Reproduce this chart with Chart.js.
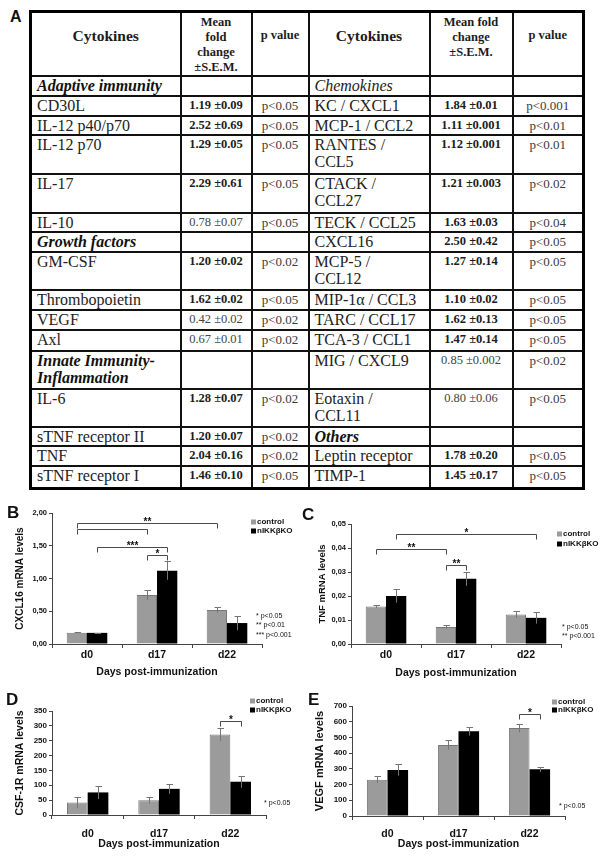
<!DOCTYPE html>
<html><head><meta charset="utf-8">
<script src="https://cdn.jsdelivr.net/npm/chart.js@4.4.0/dist/chart.umd.min.js"></script>
<style>
html,body{margin:0;padding:0;background:#fff;}
body{width:601px;height:857px;position:relative;overflow:hidden;}
#lblA{position:absolute;left:10px;top:9px;font:bold 16px/16px 'Liberation Sans',Arial,sans-serif;color:#111;}
#tbl{position:absolute;left:29px;top:10px;border-collapse:collapse;table-layout:fixed;width:553px;border:3px solid #000;
 font-family:'Liberation Serif','Times New Roman',serif;color:#1c1c1c;}
#tbl td{border:2px solid #111;padding:0 5px;vertical-align:top;white-space:pre;overflow:hidden;}
#tbl td.hd{font-weight:bold;text-align:center;font-size:12.5px;line-height:15px;padding-top:2px;}
#tbl td.hc{font-weight:bold;text-align:center;font-size:15.5px;vertical-align:middle;padding-bottom:16px;}
#tbl td.hp{font-weight:bold;text-align:center;font-size:12.5px;vertical-align:middle;padding-bottom:17px;}
#tbl td.nm{font-size:16px;line-height:17px;text-align:left;padding-left:5px;color:#222;}
#tbl td.sec{font-style:italic;font-weight:bold;color:#111;}
#tbl td.seci{font-style:italic;}
#tbl td.fv{font-size:12.5px;line-height:17px;text-align:center;font-weight:bold;}
#tbl td.fv.dn{font-weight:normal;color:#444;}
#tbl td.pv{font-size:13px;line-height:17px;text-align:center;color:#3a3a3a;}
canvas{position:absolute;}
</style></head><body>
<div id="lblA">A</div>
<table id="tbl"></table>
<canvas id="cB" width="300" height="180" style="left:0;top:500px"></canvas>
<canvas id="cC" width="301" height="180" style="left:300px;top:500px"></canvas>
<canvas id="cD" width="300" height="177" style="left:0;top:680px"></canvas>
<canvas id="cE" width="301" height="177" style="left:300px;top:680px"></canvas>
<script>
// ---------------- Table data ----------------
const tableHeaders = ['Cytokines', 'Mean\nfold\nchange\n±S.E.M.', 'p value', 'Cytokines', 'Mean fold\nchange\n±S.E.M.', 'p value'];
const leftNames = ['Adaptive immunity','CD30L','IL-12 p40/p70','IL-12 p70','IL-17','IL-10','Growth factors','GM-CSF','Thrombopoietin','VEGF','Axl','Innate Immunity-\nInflammation','IL-6','sTNF receptor II','TNF','sTNF receptor I'];
const leftFold = ['','1.19 ±0.09','2.52 ±0.69','1.29 ±0.05','2.29 ±0.61','0.78 ±0.07','','1.20 ±0.02','1.62 ±0.02','0.42 ±0.02','0.67 ±0.01','','1.28 ±0.07','1.20 ±0.07','2.04 ±0.16','1.46 ±0.10'];
const leftP = ['','p<0.05','p<0.05','p<0.05','p<0.05','p<0.05','','p<0.02','p<0.05','p<0.02','p<0.02','','p<0.02','p<0.02','p<0.02','p<0.05'];
const rightNames = ['Chemokines','KC / CXCL1','MCP-1 / CCL2','RANTES /\nCCL5','CTACK /\nCCL27','TECK / CCL25','CXCL16','MCP-5 /\nCCL12','MIP-1α / CCL3','TARC / CCL17','TCA-3 / CCL1','MIG / CXCL9','Eotaxin /\nCCL11','Others','Leptin receptor','TIMP-1'];
const rightFold = ['','1.84 ±0.01','1.11 ±0.001','1.12 ±0.001','1.21 ±0.003','1.63 ±0.03','2.50 ±0.42','1.27 ±0.14','1.10 ±0.02','1.62 ±0.13','1.47 ±0.14','0.85 ±0.002','0.80 ±0.06','','1.78 ±0.20','1.45 ±0.17'];
const rightP = ['','p<0.001','p<0.01','p<0.01','p<0.02','p<0.04','p<0.05','p<0.05','p<0.05','p<0.05','p<0.05','p<0.02','p<0.05','','p<0.05','p<0.05'];
const plainSections = ['Chemokines'];

// ---------------- Chart data ----------------
const days = ['d0','d17','d22'];
const seriesLabels = ['control','nIKKβKO'];
const dayAxisTitle = 'Days post-immunization';

const cxcl16Control = [0.17, 0.75, 0.52];
const cxcl16ControlSem = [0.01, 0.08, 0.04];
const cxcl16KO = [0.17, 1.12, 0.32];
const cxcl16KOSem = [0.004, 0.14, 0.11];
const cxcl16TickValues = [0, 0.5, 1, 1.5, 2];
const cxcl16TickLabels = ['0,00','0,50','1,00','1,50','2,00'];
const cxcl16Sig = [[0,0,2,0,1.85,'**'],[0,0,1,0,1.756,''],[0,1,1,1,1.48,'***'],[1,0,1,1,1.36,'*']];
const cxcl16Notes = ['* p<0.05','** p<0.01','*** p<0.001'];

const tnfControl = [0.0156, 0.0071, 0.0123];
const tnfControlSem = [0.0006, 0.0007, 0.0015];
const tnfKO = [0.0200, 0.0272, 0.0109];
const tnfKOSem = [0.0028, 0.0030, 0.0024];
const tnfTickValues = [0, 0.01, 0.02, 0.03, 0.04, 0.05];
const tnfTickLabels = ['0,00','0,01','0,02','0,03','0,04','0,05'];
const tnfSig = [[0,1,2,1,0.0458,'*'],[0,0,1,0,0.0396,'**'],[1,0,1,1,0.0330,'**']];
const tnfNotes = ['* p<0.05','** p<0.001'];

const csf1rControl = [42, 50, 271];
const csf1rControlSem = [20, 12, 22];
const csf1rKO = [76, 88, 112];
const csf1rKOSem = [22, 17, 20];
const csf1rTickValues = [0, 50, 100, 150, 200, 250, 300, 350];
const csf1rTickLabels = ['0','50','100','150','200','250','300','350'];
const csf1rSig = [[2,0,2,1,316,'*']];
const csf1rNotes = ['* p<0.05'];

const vegfControl = [231, 452, 560];
const vegfControlSem = [21, 30, 28];
const vegfKO = [293, 539, 297];
const vegfKOSem = [36, 27, 17];
const vegfTickValues = [0, 100, 200, 300, 400, 500, 600, 700];
const vegfTickLabels = ['0','100','200','300','400','500','600','700'];
const vegfSig = [[2,0,2,1,650,'*']];
const vegfNotes = ['* p<0.05'];

// ---------------- Build table ----------------
(function(){
  const colW = [150, 71, 57, 121, 83, 71];
  const rowH = [20,20,19,39,39,19,20,38,20,20,21,38,38,19,20,22];
  const hdCls = ['hc','hd','hp','hc','hd','hp'];
  let h = '<colgroup>' + colW.map(w => '<col style="width:'+w+'px">').join('') + '</colgroup>';
  h += '<tr style="height:63px">';
  tableHeaders.forEach((t,i) => { h += '<td class="'+hdCls[i]+'">'+t+'</td>'; });
  h += '</tr>';
  const side = (names, fold, p, i) => {
    const nm = names[i], fv = fold[i];
    let cls = 'nm';
    if (fv === '') cls += plainSections.includes(nm) ? ' seci' : ' sec';
    const dn = fv !== '' && parseFloat(fv) < 1 ? ' dn' : '';
    return '<td class="'+cls+'">'+nm+'</td><td class="fv'+dn+'">'+fv+'</td><td class="pv">'+p[i]+'</td>';
  };
  for (let i = 0; i < leftNames.length; i++) {
    h += '<tr style="height:'+rowH[i]+'px">' + side(leftNames, leftFold, leftP, i) + side(rightNames, rightFold, rightP, i) + '</tr>';
  }
  document.getElementById('tbl').innerHTML = h;
})();

// ---------------- Charts ----------------
const FONT = "'Liberation Sans', Arial, Helvetica, sans-serif";
const seriesColors = ['#9b9b9b', '#000000'];

function buildChart(id, o) {
  const canvas = document.getElementById(id);
  const W = canvas.width, H = canvas.height;
  const values = [o.control, o.ko];
  const sems = [o.controlSem, o.koSem];
  const ann = {
    id: 'ann_' + id,
    afterDatasetsDraw(chart) {
      const ctx = chart.ctx, ys = chart.scales.y;
      ctx.save();
      ctx.strokeStyle = '#757575';
      ctx.lineWidth = 1;
      sems.forEach((sem, di) => {
        const meta = chart.getDatasetMeta(di);
        meta.data.forEach((el, j) => {
          const v = values[di][j], e = sem[j];
          const x = Math.round(el.x) + 0.5;
          const yt = Math.round(ys.getPixelForValue(v + e)) + 0.5;
          const yb = ys.getPixelForValue(Math.max(0, v - e));
          ctx.beginPath();
          ctx.moveTo(x, yb); ctx.lineTo(x, yt);
          ctx.moveTo(x - 3, yt); ctx.lineTo(x + 3.5, yt);
          ctx.stroke();
        });
      });
      o.sig.forEach(s => {
        const xa = Math.round(chart.getDatasetMeta(s[1]).data[s[0]].x) + 0.5;
        const xb = Math.round(chart.getDatasetMeta(s[3]).data[s[2]].x) + 0.5;
        const y = Math.round(ys.getPixelForValue(s[4])) + 0.5;
        ctx.strokeStyle = '#4a4a4a';
        ctx.beginPath();
        ctx.moveTo(xa, y + 5); ctx.lineTo(xa, y); ctx.lineTo(xb, y); ctx.lineTo(xb, y + 5);
        ctx.stroke();
        if (s[5]) {
          ctx.fillStyle = '#111';
          ctx.font = 'bold 10px ' + FONT;
          ctx.textAlign = 'center';
          ctx.textBaseline = 'alphabetic';
          ctx.fillText(s[5], (xa + xb) / 2, y + 1.5);
        }
      });
      ctx.restore();
    },
    afterDraw(chart) {
      const ctx = chart.ctx;
      ctx.save();
      ctx.font = 'bold 8px ' + FONT;
      ctx.textAlign = 'left';
      ctx.textBaseline = 'middle';
      seriesLabels.forEach((lab, i) => {
        const y = o.legend.y + i * o.legend.dy;
        ctx.fillStyle = seriesColors[i];
        ctx.fillRect(o.legend.x, y - 2.5, 5, 5);
        ctx.fillStyle = '#111';
        ctx.fillText(lab, o.legend.x + 6, y);
      });
      ctx.font = '7px ' + FONT;
      o.notes.forEach((t, i) => ctx.fillText(t, o.note.x, o.note.y + i * 9.5));
      ctx.font = 'bold 17px ' + FONT;
      ctx.textBaseline = 'alphabetic';
      ctx.fillText(o.letter, o.letterPos[0], o.letterPos[1]);
      ctx.restore();
    }
  };
  return new Chart(canvas, {
    type: 'bar',
    data: {
      labels: days,
      datasets: [
        { label: seriesLabels[0], data: o.control, backgroundColor: seriesColors[0], borderColor: '#787878', borderWidth: 1 },
        { label: seriesLabels[1], data: o.ko, backgroundColor: seriesColors[1], borderWidth: 0 }
      ]
    },
    options: {
      responsive: false,
      animation: false,
      devicePixelRatio: 1,
      events: [],
      layout: { padding: { left: 0, top: o.plot.top, right: W - o.plot.right, bottom: 0 } },
      datasets: { bar: { categoryPercentage: 0.58, barPercentage: 1.0 } },
      plugins: { legend: { display: false }, tooltip: { enabled: false }, title: { display: false } },
      scales: {
        x: {
          type: 'category',
          offset: true,
          grid: { display: true, offset: true, drawOnChartArea: false, drawTicks: true, tickLength: 4, color: '#444' },
          border: { display: true, color: '#444', width: 1 },
          ticks: { color: '#111', font: { family: FONT, size: 10.5, weight: 'bold' }, padding: o.xPad, maxRotation: 0 },
          title: { display: true, text: dayAxisTitle, color: '#111', font: { family: FONT, size: 10.5, weight: 'bold' }, padding: { top: 0, bottom: o.xTitlePad } },
          afterFit: s => { s.height = H - o.plot.bottom; }
        },
        y: {
          min: o.tickValues[0],
          max: o.tickValues[o.tickValues.length - 1],
          afterBuildTicks: s => { s.ticks = o.tickValues.map(v => ({ value: v })); },
          grid: { display: true, drawOnChartArea: false, drawTicks: true, tickLength: 3, color: '#444' },
          border: { display: true, color: '#444', width: 1 },
          ticks: { color: '#111', font: { family: FONT, size: o.tickSize, weight: 'bold' }, padding: 2,
                   callback: (v, i) => o.tickLabels[i] },
          title: { display: true, text: o.yTitle, color: '#111', font: { family: FONT, size: o.yTitleSize, weight: 'bold' }, padding: { top: o.yTitlePad, bottom: 0 } },
          afterFit: s => { s.width = o.plot.left; }
        }
      }
    },
    plugins: [ann]
  });
}

buildChart('cB', {
  control: cxcl16Control, controlSem: cxcl16ControlSem, ko: cxcl16KO, koSem: cxcl16KOSem,
  tickValues: cxcl16TickValues, tickLabels: cxcl16TickLabels, sig: cxcl16Sig, notes: cxcl16Notes,
  yTitle: 'CXCL16 mRNA levels', yTitleSize: 10, yTitlePad: 14, tickSize: 7.5,
  plot: { left: 52, top: 13, right: 262, bottom: 144 }, xPad: 1, xTitlePad: 1.5,
  legend: { x: 251, y: 22, dy: 9 }, note: { x: 256, y: 116 }, letter: 'B', letterPos: [7, 18]
});
buildChart('cC', {
  control: tnfControl, controlSem: tnfControlSem, ko: tnfKO, koSem: tnfKOSem,
  tickValues: tnfTickValues, tickLabels: tnfTickLabels, sig: tnfSig, notes: tnfNotes,
  yTitle: 'TNF mRNA levels', yTitleSize: 9.5, yTitlePad: 17, tickSize: 7.5,
  plot: { left: 51, top: 24, right: 261, bottom: 144 }, xPad: 1, xTitlePad: 1,
  legend: { x: 257, y: 34, dy: 10 }, note: { x: 262, y: 127 }, letter: 'C', letterPos: [2, 20]
});
buildChart('cD', {
  control: csf1rControl, controlSem: csf1rControlSem, ko: csf1rKO, koSem: csf1rKOSem,
  tickValues: csf1rTickValues, tickLabels: csf1rTickLabels, sig: csf1rSig, notes: csf1rNotes,
  yTitle: 'CSF-1R mRNA levels', yTitleSize: 10.5, yTitlePad: 13.5, tickSize: 8,
  plot: { left: 52, top: 31, right: 266, bottom: 135 }, xPad: 9, xTitlePad: 6.5,
  legend: { x: 250, y: 21, dy: 9 }, note: { x: 264, y: 123 }, letter: 'D', letterPos: [6, 25]
});
buildChart('cE', {
  control: vegfControl, controlSem: vegfControlSem, ko: vegfKO, koSem: vegfKOSem,
  tickValues: vegfTickValues, tickLabels: vegfTickLabels, sig: vegfSig, notes: vegfNotes,
  yTitle: 'VEGF mRNA levels', yTitleSize: 11, yTitlePad: 13, tickSize: 8,
  plot: { left: 52, top: 26, right: 265, bottom: 136 }, xPad: 8, xTitlePad: 6.5,
  legend: { x: 252, y: 22, dy: 8 }, note: { x: 259, y: 126 }, letter: 'E', letterPos: [8, 25]
});
</script>
</body></html>
